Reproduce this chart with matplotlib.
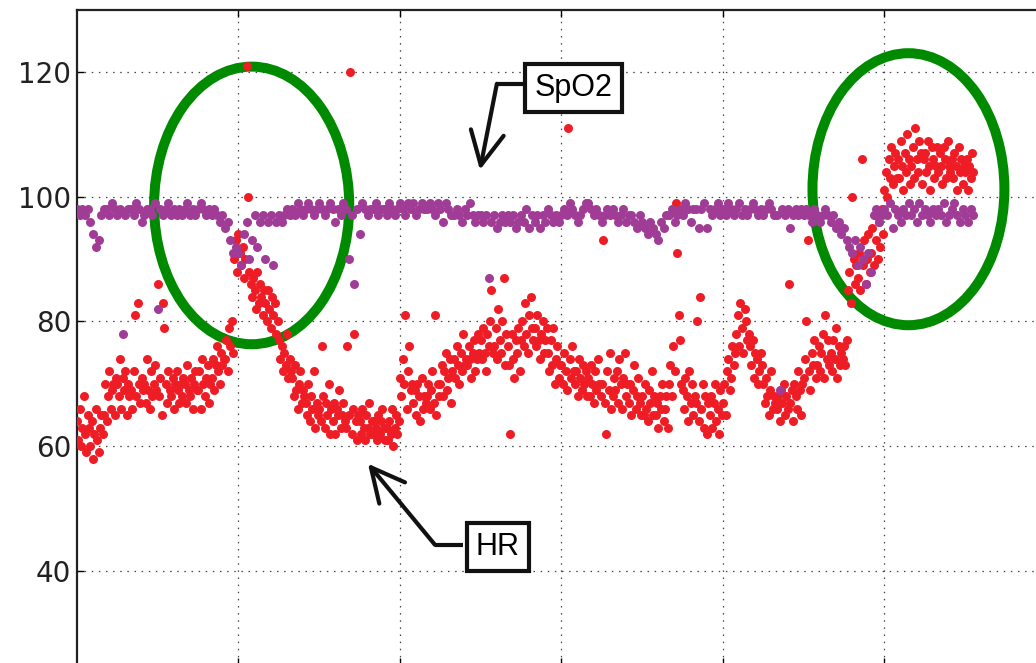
import numpy as np
import matplotlib
matplotlib.use("Agg")
import matplotlib.pyplot as plt
from matplotlib.patches import Ellipse

# heart rate, one reading every 0.5 s
HR = [
    64, 61, 66, 60, 63, 68, 62, 59, 65, 63,
    60, 64, 58, 62, 66, 61, 59, 63, 65, 62,
    65, 70, 64, 68, 72, 66, 69, 70, 65, 71,
    70, 68, 74, 66, 71, 69, 72, 65, 70, 68,
    69, 66, 72, 81, 68, 83, 70, 67, 71, 69,
    70, 67, 74, 69, 66, 72, 68, 70, 73, 69,
    86, 68, 71, 65, 83, 79, 70, 67, 72, 69,
    68, 71, 66, 70, 72, 69, 67, 70, 68, 71,
    70, 67, 73, 69, 68, 71, 66, 70, 72, 69,
    69, 72, 66, 74, 70, 68, 71, 73, 67, 70,
    71, 74, 69, 73, 76, 72, 70, 75, 73, 74,
    74, 77, 72, 79, 76, 80, 75, 90, 93, 88,
    94, 91, 89, 92, 87, 90, 121, 100, 88, 86,
    84, 87, 85, 82, 88, 83, 86, 84, 81, 85,
    83, 80, 85, 82, 79, 84, 81, 83, 78, 80,
    77, 74, 76, 72, 75, 73, 78, 71, 74, 72,
    71, 68, 73, 69, 66, 70, 72, 67, 69, 68,
    67, 65, 70, 64, 68, 66, 72, 63, 67, 65,
    66, 64, 76, 68, 63, 67, 65, 70, 62, 66,
    64, 67, 62, 66, 65, 69, 63, 65, 67, 64,
    63, 76, 65, 120, 62, 66, 78, 64, 61, 65,
    64, 62, 66, 63, 61, 65, 63, 67, 62, 64,
    62, 64, 63, 61, 65, 62, 64, 66, 63, 61,
    63, 61, 64, 62, 66, 60, 63, 65, 62, 64,
    71, 68, 74, 70, 81, 66, 72, 76, 69, 70,
    67, 69, 65, 70, 68, 64, 71, 66, 68, 67,
    68, 70, 66, 69, 72, 67, 81, 65, 70, 68,
    70, 73, 68, 72, 75, 69, 71, 74, 67, 72,
    74, 71, 76, 73, 70, 75, 72, 78, 73, 74,
    73, 76, 74, 71, 75, 77, 72, 74, 78, 75,
    77, 74, 79, 75, 72, 78, 76, 80, 85, 75,
    76, 79, 74, 82, 77, 75, 80, 87, 73, 78,
    76, 73, 62, 78, 74, 71, 77, 75, 79, 72,
    77, 80, 76, 83, 78, 75, 81, 84, 79, 77,
    79, 76, 81, 77, 74, 78, 80, 75, 77, 79,
    75, 72, 77, 73, 79, 70, 74, 76, 71, 73,
    73, 70, 75, 72, 69, 111, 74, 71, 76, 72,
    70, 72, 68, 74, 71, 69, 73, 70, 72, 68,
    71, 68, 73, 70, 67, 72, 69, 74, 70, 68,
    70, 93, 67, 62, 72, 69, 75, 66, 68, 71,
    69, 72, 67, 74, 70, 66, 71, 75, 68, 70,
    67, 70, 65, 69, 73, 66, 68, 71, 67, 65,
    68, 65, 70, 66, 64, 69, 67, 72, 65, 68,
    65, 67, 63, 68, 66, 70, 64, 66, 68, 63,
    70, 73, 68, 76, 72, 99, 91, 81, 77, 70,
    69, 66, 71, 68, 64, 72, 67, 70, 65, 68,
    67, 80, 64, 84, 66, 70, 63, 68, 62, 67,
    65, 68, 63, 67, 70, 64, 66, 62, 69, 65,
    67, 70, 65, 72, 74, 69, 71, 76, 73, 75,
    78, 81, 76, 83, 79, 75, 82, 80, 77, 78,
    76, 73, 77, 71, 75, 74, 70, 72, 75, 73,
    70, 67, 71, 68, 65, 69, 72, 66, 68, 67,
    66, 68, 64, 69, 67, 70, 65, 68, 66, 86,
    67, 69, 64, 70, 68, 66, 72, 69, 65, 70,
    71, 74, 80, 93, 72, 69, 75, 73, 77, 71,
    73, 76, 72, 75, 78, 71, 81, 74, 77, 73,
    75, 72, 77, 74, 79, 71, 76, 73, 75, 74,
    76, 73, 77, 85, 88, 83, 100, 90, 86, 89,
    87, 91, 85, 106, 89, 93, 86, 90, 94, 88,
    91, 95, 89, 97, 93, 90, 96, 92, 98, 94,
    101, 104, 100, 106, 103, 108, 102, 105, 107, 103,
    106, 103, 109, 105, 101, 107, 104, 110, 106, 102,
    105, 108, 103, 111, 106, 104, 109, 107, 102, 106,
    107, 104, 109, 105, 101, 108, 106, 103, 105, 108,
    104, 107, 105, 102, 108, 106, 103, 109, 105, 104,
    106, 103, 107, 105, 101, 108, 104, 106, 102, 105,
    104, 106, 101, 105, 103, 107, 104,
]

# oxygen saturation, one reading every 1 s
SPO2 = [
    98, 97, 98, 97, 98, 96, 94, 92, 93, 97,
    98, 98, 97, 99, 98, 97, 98, 78, 97, 98,
    98, 97, 99, 98, 96, 97, 98, 98, 97, 99,
    82, 98, 97, 98, 99, 97, 98, 97, 98, 97,
    98, 99, 97, 98, 97, 98, 99, 98, 97, 98,
    97, 98, 97, 96, 97, 95, 96, 93, 91, 92,
    91, 89, 94, 96, 90, 93, 97, 92, 96, 97,
    90, 96, 97, 89, 96, 97, 96, 97, 98, 97,
    98, 97, 99, 98, 97, 98, 99, 98, 97, 98,
    99, 98, 97, 98, 99, 98, 96, 98, 97, 99,
    98, 90, 97, 86, 98, 94, 99, 98, 97, 98,
    98, 99, 97, 98, 98, 97, 99, 98, 97, 98,
    99, 98, 97, 99, 98, 99, 97, 98, 99, 98,
    98, 99, 98, 97, 99, 98, 96, 99, 98, 97,
    97, 98, 97, 96, 98, 97, 99, 97, 96, 97,
    97, 96, 97, 87, 96, 97, 95, 96, 97, 96,
    97, 96, 97, 95, 96, 97, 96, 98, 95, 97,
    96, 97, 95, 97, 96, 98, 97, 96, 97, 96,
    97, 98, 97, 99, 98, 97, 96, 97, 98, 99,
    99, 98, 97, 98, 97, 96, 97, 98, 97, 98,
    97, 96, 97, 98, 96, 97, 97, 96, 95, 97,
    96, 95, 94, 96, 95, 94, 93, 96, 95, 97,
    97, 98, 96, 97, 98, 97, 99, 98, 96, 98,
    98, 95, 98, 99, 95, 98, 97, 98, 99, 97,
    98, 97, 99, 98, 97, 98, 99, 97, 98, 97,
    98, 99, 98, 97, 98, 97, 98, 99, 98, 97,
    97, 69, 98, 97, 98, 95, 97, 98, 97, 98,
    97, 98, 97, 96, 98, 97, 96, 97, 98, 97,
    96, 97, 95, 96, 94, 95, 93, 92, 91, 93,
    89, 92, 90, 86, 91, 88, 97, 98, 96, 97,
    98, 97, 99, 95, 98, 97, 96, 98, 97, 99,
    97, 98, 96, 99, 97, 98, 97, 96, 98, 97,
    98, 97, 99, 96, 97, 98, 99, 97, 96, 98,
    97, 96, 98, 97,
]

YTICKS = [40, 60, 80, 100, 120]

RED = "#ee1c25"
PURPLE = "#a03c96"
GREEN = "#008a00"

t_hr = np.arange(len(HR)) * 0.5
t_spo2 = np.arange(len(SPO2)) * 1.0

fig = plt.figure(figsize=(10.36, 6.63), dpi=100)
ax = fig.add_axes([0.0743, -0.0024, 0.9873, 0.988])

ax.scatter(t_hr, HR, s=42, c=RED, linewidths=0, zorder=3)
ax.scatter(t_spo2, SPO2, s=42, c=PURPLE, linewidths=0, zorder=4)

ax.set_xlim(0, 380)
ax.set_ylim(25, 130)
ax.set_xticks([60, 120, 180, 240, 300, 360])
ax.set_xticklabels([])
ax.set_yticks(YTICKS)
ax.tick_params(direction="in", length=5, width=1, top=True, right=True,
               labelsize=20, labelcolor="#222222", pad=4)
for s in ax.spines.values():
    s.set_linewidth(1.6)
    s.set_color("#222222")
ax.grid(True, color="#444444", linestyle=(0, (1.2, 4.5)), linewidth=0.9)

# highlighted regions (drawn under the points)
ax.add_patch(Ellipse((64.9, 98.6), 72.5, 44.5, fill=False, ec=GREEN, lw=7.2, zorder=2))
ax.add_patch(Ellipse((308.9, 101.2), 71.3, 43.6, fill=False, ec=GREEN, lw=7.2, zorder=2))

# callouts
box = dict(boxstyle="square,pad=0.3", fc="white", ec="#111111", lw=3)
ax.text(184.5, 117.4, "SpO2", fontsize=22, family="Liberation Sans",
        ha="center", va="center", bbox=box, zorder=8)
ax.plot([165.7, 156.0], [118.1, 118.1], color="#111111", lw=3, zorder=7,
        solid_capstyle="butt")
ax.annotate("", xy=(149.7, 104.3), xytext=(156.0, 118.1),
            arrowprops=dict(arrowstyle="->,head_length=1.0,head_width=0.5",
                            mutation_scale=24, lw=3, color="#111111",
                            shrinkA=0, shrinkB=0), zorder=7)

ax.text(156.4, 43.85, "HR", fontsize=22, family="Liberation Sans",
        ha="center", va="center", bbox=box, zorder=8)
ax.plot([143.3, 133.0], [44.2, 44.2], color="#111111", lw=3, zorder=7,
        solid_capstyle="butt")
ax.annotate("", xy=(108.1, 57.2), xytext=(133.0, 44.2),
            arrowprops=dict(arrowstyle="->,head_length=1.0,head_width=0.5",
                            mutation_scale=24, lw=3, color="#111111",
                            shrinkA=0, shrinkB=0), zorder=7)

fig.savefig("out.png", dpi=100)
